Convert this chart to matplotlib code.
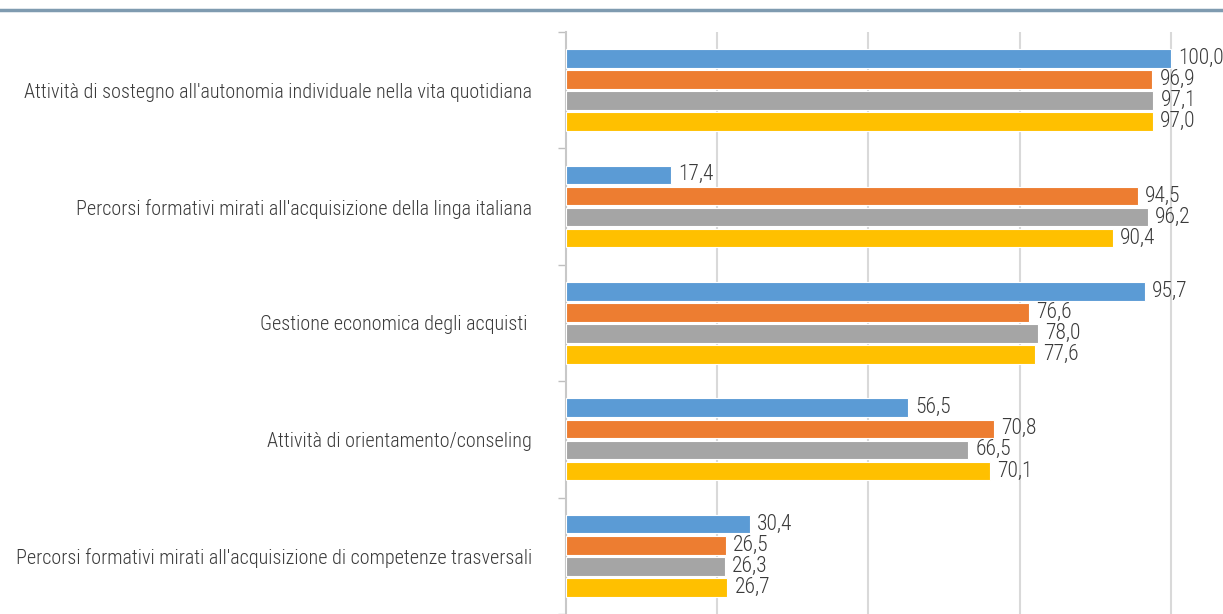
import numpy as np
import matplotlib.pyplot as plt
from matplotlib import font_manager
from matplotlib.lines import Line2D

# pick a narrow face if one is around
names = {f.name for f in font_manager.fontManager.ttflist}
family = [f for f in ['Roboto Condensed', 'Liberation Sans Narrow', 'Roboto', 'DejaVu Sans'] if f in names]
plt.rcParams['font.family'] = family
plt.rcParams['font.weight'] = 'light'

categories = [
    "Attività di sostegno all'autonomia individuale nella vita quotidiana",
    "Percorsi formativi mirati all'acquisizione della linga italiana",
    "Gestione economica degli acquisti ",
    "Attività di orientamento/conseling",
    "Percorsi formativi mirati all'acquisizione di competenze trasversali",
]
serie1 = [100.0, 17.4, 95.7, 56.5, 30.4]
serie2 = [96.9, 94.5, 76.6, 70.8, 26.5]
serie3 = [97.1, 96.2, 78.0, 66.5, 26.3]
serie4 = [97.0, 90.4, 77.6, 70.1, 26.7]
colors = ['#5b9bd5', '#ed7d31', '#a5a5a5', '#ffc000']

fig = plt.figure(figsize=(12.23, 6.14), dpi=100)
ax = fig.add_axes([0.4624, 0.0, 0.5376, 0.948])

y = np.arange(len(categories))
step = 0.181
h = 0.16
for i, (vals, c) in enumerate(zip([serie1, serie2, serie3, serie4], colors)):
    pos = y + (i - 1.5) * step
    ax.barh(pos, vals, height=h, color=c, edgecolor='white', linewidth=0.8, zorder=3)
    for p, v in zip(pos, vals):
        ax.text(v + 1.2, p, f'{v:.1f}'.replace('.', ','), va='center', ha='left',
                fontsize=15.5, color='#3a3a3a', zorder=4)

ax.set_xlim(0, 100 * (1223 - 565.5) / (1171 - 565.5))
ax.set_ylim(len(categories) - 0.5, -0.5)
ax.set_xticks([25, 50, 75, 100])
ax.xaxis.grid(True, color='#d9d9d9', linewidth=1.5, zorder=0)
ax.tick_params(axis='x', length=0, labelbottom=False)

ax.set_yticks(np.arange(-0.5, len(categories), 1.0))
ax.set_yticks(y, minor=True)
ax.set_yticklabels([])
ax.set_yticklabels(categories, minor=True)
ax.tick_params(axis='y', which='major', length=6, width=1, color='#bfbfbf', direction='out')
ax.tick_params(axis='y', which='minor', length=0, pad=24, labelsize=14.5, labelcolor='#3a3a3a')

for s in ['top', 'right', 'bottom']:
    ax.spines[s].set_visible(False)
ax.spines['left'].set_color('#c8c8c8')
ax.spines['left'].set_linewidth(1.5)

# header rule across the top
fig.add_artist(Line2D([0, 1], [0.983, 0.983], transform=fig.transFigure,
                      color='#7f9bb0', linewidth=2.5))

fig.savefig('out.png', dpi=100)
